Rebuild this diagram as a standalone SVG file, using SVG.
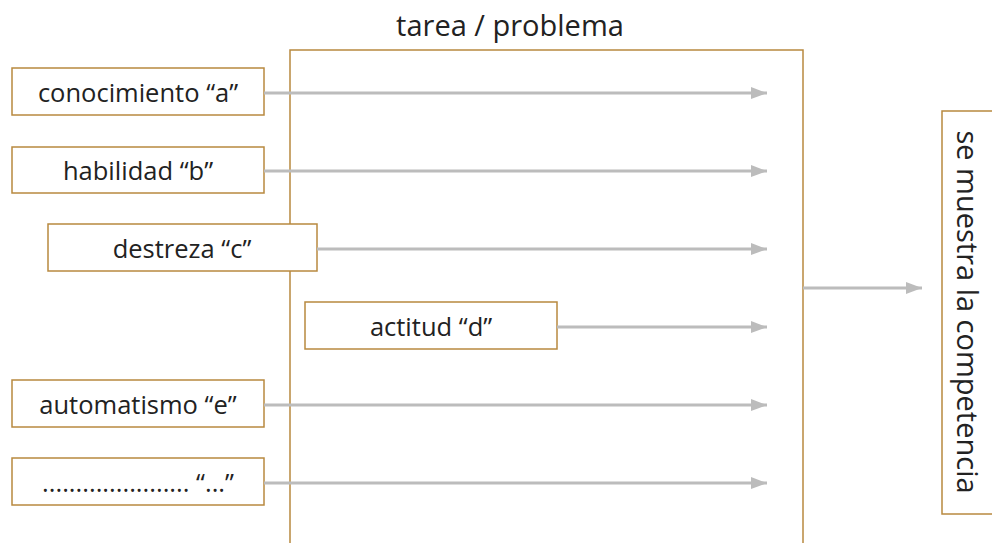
<svg xmlns="http://www.w3.org/2000/svg" width="992" height="543" viewBox="0 0 992 543">
<defs>
<style>
.box{fill:#fff;stroke:#b8893f;stroke-width:1.5}
.t{font-family:"Open Sans",Lato,sans-serif;font-size:25.5px;fill:#222;text-anchor:middle}
.big{font-size:29px}
.c{stroke:#bcbcbc;stroke-width:3;fill:none}
</style>
<marker id="ah" markerWidth="16" markerHeight="12" refX="16" refY="6" orient="auto" markerUnits="userSpaceOnUse">
<path d="M0,0 L16,6 L0,12 Z" fill="#bcbcbc"/>
</marker>
</defs>
<rect width="992" height="543" fill="#fff"/>
<g id="tarea">
<rect class="box" x="290" y="50" width="513" height="520"/>
<text class="t big" x="510" y="36">tarea / problema</text>
</g>
<g id="competencia">
<rect class="box" x="942" y="111" width="70" height="403"/>
<text class="t big" transform="translate(957,312) rotate(90)">se muestra la competencia</text>
</g>
<g id="conocimiento">
<rect class="box" x="12" y="68" width="252" height="47"/>
<text class="t" x="138" y="102">conocimiento “a”</text>
</g>
<g id="habilidad">
<rect class="box" x="12" y="147" width="252" height="46"/>
<text class="t" x="138" y="180">habilidad “b”</text>
</g>
<g id="destreza">
<rect class="box" x="48" y="224" width="269" height="47"/>
<text class="t" x="182" y="258">destreza “c”</text>
</g>
<g id="actitud">
<rect class="box" x="305" y="302" width="252" height="47"/>
<text class="t" x="431" y="336">actitud “d”</text>
</g>
<g id="automatismo">
<rect class="box" x="12" y="380" width="252" height="47"/>
<text class="t" x="138" y="414">automatismo “e”</text>
</g>
<g id="otros">
<rect class="box" x="12" y="458" width="252" height="47"/>
<text class="t" x="138" y="492">...................... “...”</text>
</g>
<g id="connectors">
<line class="c" x1="264" y1="93" x2="767" y2="93" marker-end="url(#ah)"/>
<line class="c" x1="264" y1="171" x2="767" y2="171" marker-end="url(#ah)"/>
<line class="c" x1="317" y1="249" x2="767" y2="249" marker-end="url(#ah)"/>
<line class="c" x1="557" y1="327" x2="767" y2="327" marker-end="url(#ah)"/>
<line class="c" x1="264" y1="405" x2="767" y2="405" marker-end="url(#ah)"/>
<line class="c" x1="264" y1="483" x2="767" y2="483" marker-end="url(#ah)"/>
<line class="c" x1="803" y1="288" x2="922" y2="288" marker-end="url(#ah)"/>
</g>
</svg>
